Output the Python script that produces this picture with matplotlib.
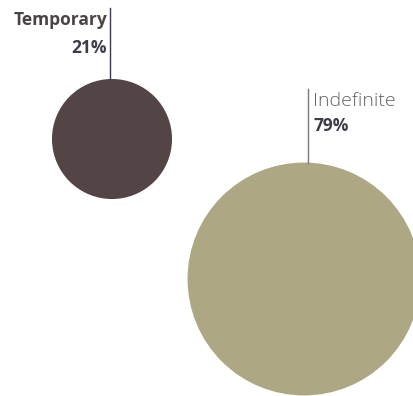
import matplotlib.pyplot as plt
from matplotlib.patches import Circle
import numpy as np

# data
categories = ["Temporary", "Indefinite"]
shares = [21, 79]
colors = ["#534546", "#ada784"]

# layout (pixel space)
W, H = 413, 396
scale = 13.1  # radius per sqrt(percent)
centers = [(112, 139), (304, 279)]
label_side = ["left", "right"]

plt.rcParams['font.family'] = ['Open Sans', 'DejaVu Sans']

fig = plt.figure(figsize=(W / 100, H / 100), dpi=100)
ax = fig.add_axes([0, 0, 1, 1])
ax.set_xlim(0, W)
ax.set_ylim(H, 0)
ax.set_aspect('equal')
ax.axis('off')

for cat, v, c, (cx, cy), side in zip(categories, shares, colors, centers, label_side):
    r = scale * np.sqrt(v)
    ax.add_patch(Circle((cx, cy), r, color=c, lw=0))
    top = cy - r
    if side == "left":
        lx = cx - 2
        ax.plot([lx, lx], [8, top], color="#3a3a48", lw=1)
        ax.text(lx - 3, 25, cat, ha='right', va='baseline', fontsize=12.5,
                fontweight='bold', color="#4a4445")
        ax.text(lx - 3, 53, f"{v}%", ha='right', va='baseline', fontsize=12.5,
                fontweight='bold', color="#3d3d4a")
    else:
        lx = cx + 4
        ax.plot([lx, lx], [89, top], color="#7a7a85", lw=1)
        ax.text(lx + 5, 106, cat, ha='left', va='baseline', fontsize=14,
                fontweight='light', color="#62626c")
        ax.text(lx + 5, 131, f"{v}%", ha='left', va='baseline', fontsize=12.5,
                fontweight='bold', color="#3d3d4a")

fig.savefig("out.png", dpi=100)
